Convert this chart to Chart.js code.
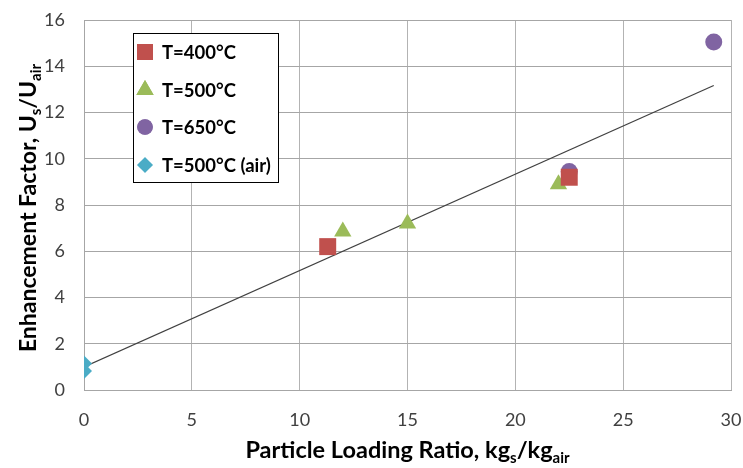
<!DOCTYPE html>
<html><head><meta charset="utf-8">
<script src="https://cdn.jsdelivr.net/npm/chart.js@4/dist/chart.umd.min.js"></script>
<style>html,body{margin:0;padding:0;background:#fff}canvas{display:block}</style>
</head><body>
<canvas id="c" width="743" height="468"></canvas>
<script>
// ---- data ----
const seriesNames = ['T=400°C', 'T=500°C', 'T=650°C', 'T=500°C (air)'];
const x400 = [11.3, 22.5];
const y400 = [6.2, 9.2];
const x500 = [12.0, 15.0, 22.0];
const y500 = [6.85, 7.2, 8.9];
const x650 = [22.5, 29.2];
const y650 = [9.45, 15.05];
const xAir = [0, 0];
const yAir = [1.15, 0.82];
const trendX = [0, 29.2];
const trendY = [1.0, 13.17];
const xTicks = [0, 5, 10, 15, 20, 25, 30];
const yTicks = [0, 2, 4, 6, 8, 10, 12, 14, 16];

const pts = (xs, ys) => xs.map((x, i) => ({x, y: ys[i]}));
const FONT = 'Lato, "Open Sans", sans-serif';

const styles = [
  {pointStyle: 'rect', radius: 12, color: '#C0504D', lr: 11.3},
  {pointStyle: 'triangle', radius: 10, color: '#9BBB59', lr: 10},
  {pointStyle: 'circle', radius: 8.5, color: '#8064A2', lr: 7.8},
  {pointStyle: 'rectRot', radius: 8, color: '#4BACC6', lr: 7.8},
];
const seriesData = [pts(x400, y400), pts(x500, y500), pts(x650, y650), pts(xAir, yAir)];

const datasets = [{
  type: 'line', label: 'trend', data: pts(trendX, trendY),
  borderColor: '#404040', borderWidth: 1.2, pointRadius: 0, fill: false, order: 5
}];
seriesNames.forEach((n, i) => datasets.push({
  type: 'scatter', label: n, data: seriesData[i],
  pointStyle: styles[i].pointStyle, pointRadius: styles[i].radius, pointHoverRadius: styles[i].radius,
  backgroundColor: styles[i].color, borderColor: styles[i].color, borderWidth: 0, order: 1
}));

function drawRich(ctx, parts, x, y, size) {
  const base = 'bold ' + size + 'px ' + FONT;
  const sub = 'bold ' + Math.round(size * 0.65) + 'px ' + FONT;
  let w = 0;
  parts.forEach(p => { ctx.font = p.sub ? sub : base; w += ctx.measureText(p.t).width; });
  let cx = x - w / 2;
  ctx.textAlign = 'left'; ctx.textBaseline = 'alphabetic';
  parts.forEach(p => {
    ctx.font = p.sub ? sub : base;
    ctx.fillText(p.t, cx, y + (p.sub ? size * 0.22 : 0));
    cx += ctx.measureText(p.t).width;
  });
}

const overlay = {
  id: 'overlay',
  afterDraw(chart) {
    const ctx = chart.ctx, a = chart.chartArea;
    ctx.save();
    ctx.fillStyle = '#000';
    // x title
    drawRich(ctx, [{t: 'Particle Loading Ratio, kg'}, {t: 's', sub: true}, {t: '/kg'}, {t: 'air', sub: true}],
      (a.left + a.right) / 2, 458, 23.5);
    // y title
    ctx.save();
    ctx.translate(36, (a.top + a.bottom) / 2 + 3);
    ctx.rotate(-Math.PI / 2);
    drawRich(ctx, [{t: 'Enhancement Factor, U'}, {t: 's', sub: true}, {t: '/U'}, {t: 'air', sub: true}], 0, 0, 23);
    ctx.restore();
    // legend
    const lx = 133, ly = 33, lw = 145, lh = 149;
    ctx.fillStyle = '#fff';
    ctx.fillRect(lx, ly, lw, lh);
    ctx.strokeStyle = '#000'; ctx.lineWidth = 1;
    ctx.strokeRect(lx + 0.5, ly + 0.5, lw, lh);
    const rows = [52, 90, 127, 165];
    seriesNames.forEach((n, i) => {
      ctx.fillStyle = styles[i].color;
      Chart.helpers.drawPoint(ctx, {pointStyle: styles[i].pointStyle, radius: styles[i].lr, rotation: 0, borderWidth: 0}, 145, rows[i]);
      ctx.fill();
      ctx.fillStyle = '#000';
      ctx.font = 'bold 18.5px ' + FONT;
      ctx.textAlign = 'left'; ctx.textBaseline = 'middle';
      ctx.fillText(n, 162, rows[i] + 1);
    });
    ctx.restore();
  }
};

new Chart(document.getElementById('c'), {
  data: {datasets},
  options: {
    responsive: false, animation: false, devicePixelRatio: 1,
    layout: {padding: {left: 0, top: 20, right: 12, bottom: 0}},
    plugins: {legend: {display: false}, tooltip: {enabled: false}},
    scales: {
      x: {
        type: 'linear', min: 0, max: 30,
        afterBuildTicks: s => { s.ticks = xTicks.map(v => ({value: v})); },
        afterFit: s => { s.height = 78; s.paddingLeft = 0; s.paddingRight = 0; },
        ticks: {font: {family: FONT, size: 18}, color: '#404040', padding: 19},
        grid: {color: '#b3b3b3', lineWidth: 1, drawTicks: false},
        border: {color: '#a6a6a6', width: 1}
      },
      y: {
        type: 'linear', min: 0, max: 16,
        ticks: {stepSize: 1, font: {family: FONT, size: 18}, color: '#404040', padding: 19,
          callback: v => yTicks.includes(v) ? String(v) : ''},
        afterFit: s => { s.width = 84; s.paddingTop = 0; s.paddingBottom = 0; },
        grid: {color: c => (c.tick && c.tick.value % 2 === 0) ? '#a6a6a6' : '#d9d9d9', lineWidth: 1, drawTicks: false},
        border: {color: '#a6a6a6', width: 1}
      }
    }
  },
  plugins: [overlay]
});
</script>
</body></html>
